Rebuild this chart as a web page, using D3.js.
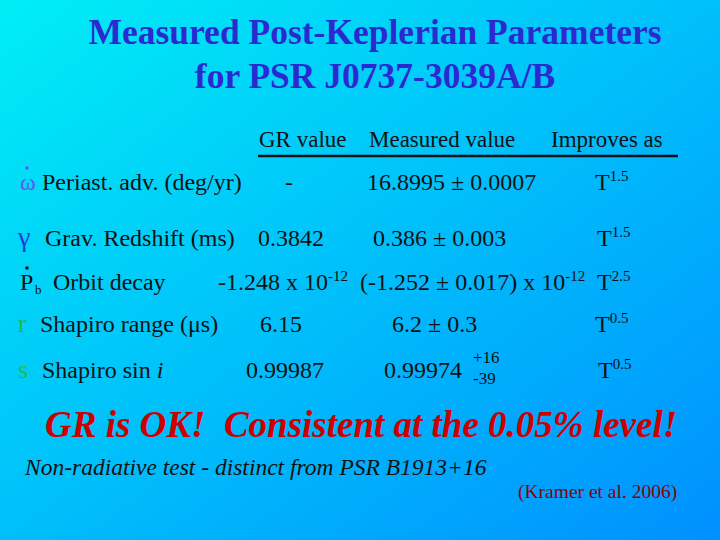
<!DOCTYPE html>
<html><head><meta charset="utf-8">
<script src="https://cdn.jsdelivr.net/npm/d3@7"></script>
<style>body{margin:0}svg{display:block}</style></head>
<body><script>
const title = ["Measured Post-Keplerian Parameters", "for PSR J0737-3039A/B"];
const headers = ["GR value", "Measured value", "Improves as"];
const symbols = ["ω", "γ", "P", "r", "s"];
const names = ["Periast. adv. (deg/yr)", "Grav. Redshift (ms)", "Orbit decay", "Shapiro range (μs)", "Shapiro sin "];
const grValues = ["-", "0.3842", "-1.248 x 10", "6.15", "0.99987"];
const measured = ["16.8995 ± 0.0007", "0.386 ± 0.003", "(-1.252 ± 0.017) x 10", "6.2 ± 0.3", "0.99974"];
const improves = ["1.5", "1.5", "2.5", "0.5", "0.5"];

const W = 720, H = 540;
const svg = d3.select("body").append("svg").attr("width", W).attr("height", H)
  .style("font-family", "'Liberation Serif','Times New Roman',serif");
const g = svg.append("defs").append("linearGradient").attr("id", "bg")
  .attr("x1", "0").attr("y1", "0").attr("x2", "1").attr("y2", "1");
g.append("stop").attr("offset", "0").attr("stop-color", "#00eef6");
g.append("stop").attr("offset", "1").attr("stop-color", "#0090ff");
svg.append("rect").attr("width", W).attr("height", H).attr("fill", "url(#bg)");

svg.selectAll(".t").data(title).join("text").attr("x", 375).attr("y", (d, i) => 44 + i * 44)
  .attr("text-anchor", "middle").attr("font-size", 35.5).attr("font-weight", "bold")
  .attr("fill", "#2a2ad0").text(d => d);

const hx = [259, 369, 551];
svg.selectAll(".h").data(headers).join("text").attr("x", (d, i) => hx[i]).attr("y", 147)
  .attr("font-size", 23).attr("fill", "#111").text(d => d);
svg.append("line").attr("x1", 258).attr("x2", 678).attr("y1", 156).attr("y2", 156)
  .attr("stroke", "#111").attr("stroke-width", 2.5);

const y = d3.scaleOrdinal().domain(d3.range(5)).range([190, 246, 290, 332, 378]);
const symX = [20, 18, 20, 18, 18], symC = ["#6655ee", "#1a40dd", "#111", "#22bb44", "#22bb44"];
const symS = [24, 28, 24, 26, 26];
const nameX = [42, 45, 53, 40, 42];
const grX = [285, 258, 218, 260, 246];
const msX = [367, 373, 360, 392, 384];
const tX = [595, 597, 597, 595, 598];
const fs = 24, col = "#111";
const rows = svg.selectAll(".row").data(d3.range(5)).join("g").attr("transform", i => `translate(0,${y(i)})`);
rows.append("text").attr("x", i => symX[i]).attr("font-size", i => symS[i]).attr("fill", i => symC[i]).text(i => symbols[i]);
rows.filter(i => i === 0 || i === 2).append("circle").attr("cx", i => symX[i] + 7).attr("cy", -22).attr("r", 1.8).attr("fill", i => symC[i]);
rows.filter(i => i === 2).append("text").attr("x", 35).attr("y", 4).attr("font-size", 13).attr("fill", col).text("b");
rows.append("text").attr("x", i => nameX[i]).attr("font-size", fs).attr("fill", col).text(i => names[i])
  .filter(i => i === 4).append("tspan").attr("font-style", "italic").text("i");
rows.append("text").attr("x", i => grX[i]).attr("font-size", fs).attr("fill", col).text(i => grValues[i])
  .filter(i => i === 2).append("tspan").attr("dy", -9).attr("font-size", 15).text("-12");
rows.append("text").attr("x", i => msX[i]).attr("font-size", fs).attr("fill", col).text(i => measured[i])
  .filter(i => i === 2).append("tspan").attr("dy", -9).attr("font-size", 15).text("-12");
rows.filter(i => i === 4).append("text").attr("x", 473).attr("y", -15).attr("font-size", 17).attr("fill", col).text("+16");
rows.filter(i => i === 4).append("text").attr("x", 473).attr("y", 6).attr("font-size", 17).attr("fill", col).text("-39");
rows.append("text").attr("x", i => tX[i]).attr("font-size", fs).attr("fill", col).text("T")
  .append("tspan").attr("dy", -9).attr("font-size", 15).text(i => improves[i]);

svg.append("text").attr("x", 45).attr("y", 437).attr("font-size", 37).attr("font-style", "italic")
  .attr("font-weight", "bold").attr("fill", "#cc0000").attr("xml:space", "preserve")
  .text("GR is OK!  Consistent at the 0.05% level!");
svg.append("text").attr("x", 25).attr("y", 475).attr("font-size", 23.5).attr("font-style", "italic")
  .attr("fill", "#111").text("Non-radiative test - distinct from PSR B1913+16");
svg.append("text").attr("x", 518).attr("y", 498).attr("font-size", 19.5).attr("fill", "#8b0000")
  .text("(Kramer et al. 2006)");
</script></body></html>
